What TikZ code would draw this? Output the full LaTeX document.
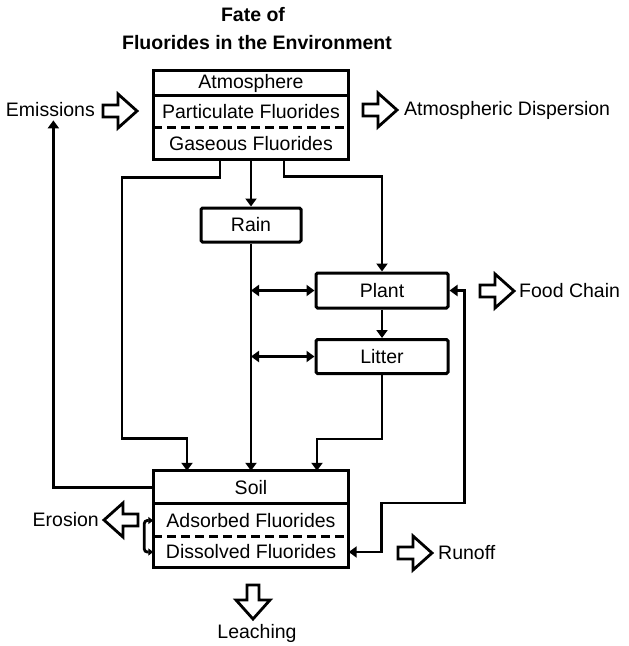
\documentclass[tikz,border=0pt]{standalone}
\usepackage{fontspec}
\setmainfont{Liberation Sans}
\usetikzlibrary{arrows.meta,calc}
\begin{document}
\begin{tikzpicture}[x=1pt,y=-1pt,
  every node/.style={font=\fontsize{19.5}{22}\selectfont},
  line/.style={line width=3pt},
  conn/.style={line width=2.8pt, line join=miter},
  >={Triangle[width=11pt,length=8pt]},
  row/.style={minimum width=195pt, inner sep=0pt, align=center},
  box/.style={draw, line width=3pt, inner sep=0pt, rounded corners=1.5pt},
  lbl/.style={inner sep=0pt},
  ttl/.style={inner sep=0pt, font=\fontsize{19.5}{22}\selectfont\bfseries},
  fat/.pic={\draw[line width=2.8pt, line join=miter] (0,-6) -- (15,-6) -- (15,-17) -- (34,0) -- (15,17) -- (15,6) -- (0,6) -- cycle;}
]
\useasboundingbox (0,0) rectangle (629,646);

% title
\node[ttl] (t1) at (253,15) {Fate of};
\node[ttl] (t2) at (257,43) {Fluorides in the Environment};

% atmosphere box
\node[row, minimum height=25pt] (atm) at (251,83.5) {Atmosphere};
\node[row, minimum height=32pt] (part) at (251,112) {Particulate Fluorides};
\node[row, minimum height=31pt] (gas) at (251,143.5) {Gaseous Fluorides};
\draw[line] (atm.north west) rectangle (gas.south east);
\draw[line] (part.north west) -- (part.north east);
\draw[line, dash pattern=on 9pt off 5pt] (gas.north west) -- (gas.north east);

% soil box
\node[row, minimum height=33pt] (soil) at (251,487.5) {Soil};
\node[row, minimum height=33pt] (ads) at (251,520.5) {Adsorbed Fluorides};
\node[row, minimum height=30pt] (dis) at (251,552) {Dissolved Fluorides};
\draw[line] (soil.north west) rectangle (dis.south east);
\draw[line] (ads.north west) -- (ads.north east);
\draw[line, dash pattern=on 9pt off 5pt] (dis.north west) -- (dis.north east);

% middle boxes
\node[box, minimum width=100pt, minimum height=34pt] (rain) at (251,225) {Rain};
\node[box, minimum width=132pt, minimum height=35pt] (plant) at (382,290.5) {Plant};
\node[box, minimum width=132pt, minimum height=34pt] (litter) at (382,356.5) {Litter};

% side labels
\node[lbl, anchor=east] (emis) at (95,110) {Emissions};
\node[lbl, anchor=west] (disp) at (404,110) {Atmospheric Dispersion};
\node[lbl, anchor=west] (food) at (519,291) {Food Chain};
\node[lbl, anchor=west] (run) at (438,553) {Runoff};
\node[lbl, anchor=east] (ero) at (99,520) {Erosion};
\node[lbl] (leach) at (257,633) {Leaching};

% fat arrows
\pic at (103,111) {fat};
\pic at (363,110) {fat};
\pic at (480,291) {fat};
\pic at (398,553) {fat};
\pic[rotate=180] at (138,520) {fat};
\pic[rotate=-90] at (253,585) {fat};

% connectors
\draw[conn,->] ([xshift=-31pt]gas.south) -- ++(0,18) -- ++(-98,0) -- ++(0,261) -- ++(65,0) -- ([xshift=-64pt]soil.north);
\draw[conn,->] (gas.south) -- (rain.north);
\draw[conn,->] ([xshift=33pt]gas.south) -- ++(0,17) -| (plant.north);
\draw[conn,->] (rain.south) -- (rain.south |- soil.north);
\draw[conn,<->] (plant.west -| rain.south) -- (plant.west);
\draw[conn,<->] (litter.west -| rain.south) -- (litter.west);
\draw[conn,->] (plant.south) -- (litter.north);
\draw[conn,->] (litter.south) -- ++(0,64) -| ([xshift=66pt]soil.north);
\draw[conn,<->] (dis.east) -- ++(33,0) -- ++(0,-49) -- ++(83,0) |- (plant.east);
\draw[conn,->] (soil.west) -| ([xshift=3pt,yshift=-3pt]emis.south);
\draw[conn,<->,rounded corners=3pt,>={Triangle[width=7pt,length=5pt]}] (ads.west) -- ++(-9,0) |- (dis.west);
\end{tikzpicture}
\end{document}
